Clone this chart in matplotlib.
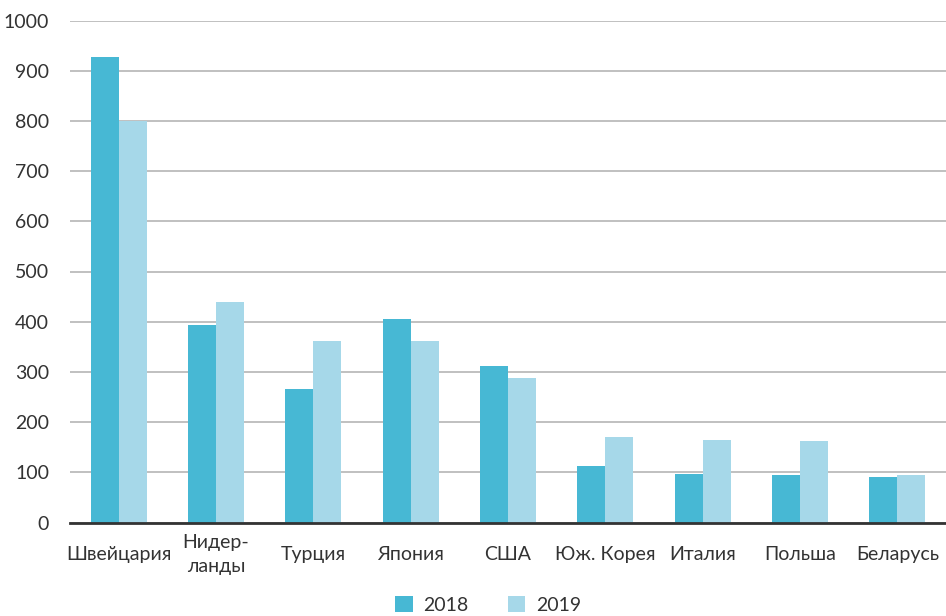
import matplotlib
matplotlib.use("Agg")
import matplotlib.pyplot as plt
from matplotlib import font_manager
import numpy as np

countries = ["Швейцария", "Нидер-\nланды", "Турция", "Япония", "США",
             "Юж. Корея", "Италия", "Польша", "Беларусь"]
values_2018 = [927, 393, 265, 405, 312, 113, 97, 95, 91]
values_2019 = [799, 439, 361, 361, 288, 171, 165, 163, 95]
series_labels = ["2018", "2019"]
yticks = list(range(0, 1001, 100))

color_2018 = "#47B8D4"
color_2019 = "#A6D8E9"

available = {f.name for f in font_manager.fontManager.ttflist}
family = [f for f in ["Liberation Sans Narrow", "Lato", "DejaVu Sans"] if f in available]
plt.rcParams["font.family"] = family

fig = plt.figure(figsize=(9.46, 6.16), dpi=100)
ax = fig.add_axes([70 / 946, (616 - 522.5) / 616, (946 - 70) / 946, (522.5 - 20.5) / 616])

x = np.arange(len(countries))
w = 0.287
ax.bar(x - w / 2, values_2018, width=w, color=color_2018, label=series_labels[0], zorder=3)
ax.bar(x + w / 2, values_2019, width=w, color=color_2019, label=series_labels[1], zorder=3)

ax.set_xlim(-0.5, len(countries) - 0.5)
ax.set_ylim(0, 1000)
ax.set_yticks(yticks)
ax.yaxis.grid(True, color="#b5b5b5", linewidth=1.2, zorder=0)
ax.set_axisbelow(True)

for s in ["top", "right", "left"]:
    ax.spines[s].set_visible(False)
ax.spines["bottom"].set_color("#333333")
ax.spines["bottom"].set_linewidth(2)
ax.spines["bottom"].set_zorder(4)

ax.set_xticks(x)
ax.set_xticklabels(countries, fontsize=14, color="#333333", linespacing=1.45, va="center")
ax.tick_params(axis="x", length=0, pad=23)
ax.tick_params(axis="y", length=0, pad=15, labelsize=14, labelcolor="#333333")

leg = fig.legend(loc="center", bbox_to_anchor=(488 / 946, 1 - 605 / 616), ncol=2, frameon=False,
                 fontsize=14, handlelength=0.9, handleheight=0.9, columnspacing=2.0,
                 handletextpad=0.55, labelcolor="#333333")

fig.savefig("out.png", dpi=100)
